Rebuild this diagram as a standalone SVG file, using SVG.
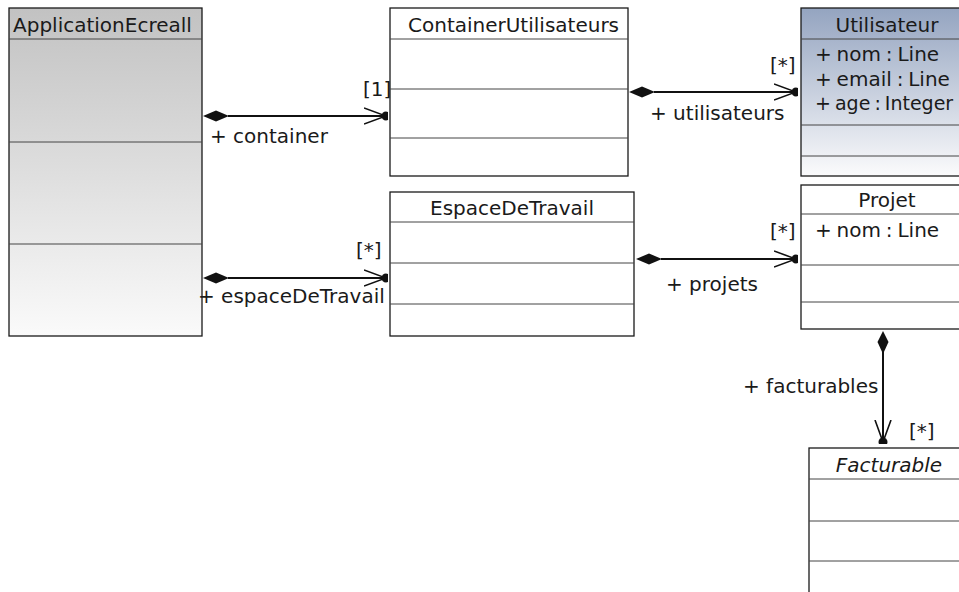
<svg xmlns="http://www.w3.org/2000/svg" width="959" height="592" viewBox="0 0 959 592">
<defs>
<style>
text{font-family:"DejaVu Sans","Liberation Sans",sans-serif;font-size:20px;fill:#1a1a1a}
.attr{word-spacing:-1.5px}
.attr2{word-spacing:-2px;font-size:19px}
.box{stroke:#1a1a1a;stroke-width:1.3}
.sep{stroke:#444;stroke-width:1}
.conn{stroke:#111;stroke-width:2;fill:none}
.dia{fill:#111;stroke:none}
</style>
<linearGradient id="gGray" x1="0" y1="0" x2="0" y2="1">
<stop offset="0" stop-color="#c2c2c2"/>
<stop offset="1" stop-color="#fafafa"/>
</linearGradient>
<linearGradient id="gBlue" x1="0" y1="0" x2="0" y2="1">
<stop offset="0" stop-color="#94a4c0"/>
<stop offset="1" stop-color="#fbfbfc"/>
</linearGradient>
<clipPath id="cApp"><rect x="9" y="8" width="193" height="329"/></clipPath>
<clipPath id="cCont"><rect x="390" y="8" width="238" height="169"/></clipPath>
<marker id="open" markerWidth="24" markerHeight="20" refX="22" refY="10" orient="auto" markerUnits="userSpaceOnUse">
<path d="M0,2 L22,10 L0,18" fill="none" stroke="#111" stroke-width="1.6"/>
<circle cx="22" cy="10" r="4.5" fill="#111"/>
</marker>
</defs>

<g id="ApplicationEcreall">
<rect class="box" x="9" y="8" width="193" height="328" fill="url(#gGray)"/>
<g clip-path="url(#cApp)"><text x="13" y="32">ApplicationEcreall</text></g>
<line class="sep" x1="9" y1="39" x2="202" y2="39"/>
<line class="sep" x1="9" y1="142" x2="202" y2="142"/>
<line class="sep" x1="9" y1="244" x2="202" y2="244"/>
</g>

<g id="ContainerUtilisateurs">
<rect class="box" x="390" y="8" width="238" height="168" fill="#fff"/>
<g clip-path="url(#cCont)"><text x="408" y="32">ContainerUtilisateurs</text></g>
<line class="sep" x1="390" y1="39" x2="628" y2="39"/>
<line class="sep" x1="390" y1="89" x2="628" y2="89"/>
<line class="sep" x1="390" y1="138" x2="628" y2="138"/>
</g>

<g id="Utilisateur">
<rect class="box" x="801" y="8" width="180" height="168" fill="url(#gBlue)"/>
<text x="887" y="32" text-anchor="middle">Utilisateur</text>
<line class="sep" x1="801" y1="39" x2="959" y2="39"/>
<text class="attr" x="815" y="61">+ nom : Line</text>
<text class="attr" x="815" y="86">+ email : Line</text>
<text class="attr2" x="815" y="110">+ age : Integer</text>
<line class="sep" x1="801" y1="125" x2="959" y2="125"/>
<line class="sep" x1="801" y1="156" x2="959" y2="156"/>
</g>

<g id="EspaceDeTravail">
<rect class="box" x="390" y="192" width="244" height="144" fill="#fff"/>
<text x="512" y="215" text-anchor="middle">EspaceDeTravail</text>
<line class="sep" x1="390" y1="222" x2="634" y2="222"/>
<line class="sep" x1="390" y1="263" x2="634" y2="263"/>
<line class="sep" x1="390" y1="304" x2="634" y2="304"/>
</g>

<g id="Projet">
<rect class="box" x="801" y="185" width="180" height="144" fill="#fff"/>
<text x="887" y="207" text-anchor="middle">Projet</text>
<line class="sep" x1="801" y1="214" x2="959" y2="214"/>
<text class="attr" x="815" y="237">+ nom : Line</text>
<line class="sep" x1="801" y1="265" x2="959" y2="265"/>
<line class="sep" x1="801" y1="302" x2="959" y2="302"/>
</g>

<g id="Facturable">
<rect class="box" x="809" y="448" width="170" height="160" fill="#fff"/>
<text x="889" y="472" text-anchor="middle" font-style="italic">Facturable</text>
<line class="sep" x1="809" y1="479" x2="959" y2="479"/>
<line class="sep" x1="809" y1="521" x2="959" y2="521"/>
<line class="sep" x1="809" y1="561" x2="959" y2="561"/>
</g>

<g id="connectors">
<line class="conn" x1="228" y1="116" x2="386" y2="116" marker-end="url(#open)"/>
<path class="dia" d="M203,116 L216,110.5 L229,116 L216,121.5 Z"/>
<text x="363" y="96">[1]</text>
<text x="210" y="143">+ container</text>

<line class="conn" x1="654" y1="92" x2="796" y2="92" marker-end="url(#open)"/>
<path class="dia" d="M629,92 L642,86.5 L655,92 L642,97.5 Z"/>
<text x="770" y="72">[*]</text>
<text x="650" y="120">+ utilisateurs</text>

<line class="conn" x1="228" y1="278" x2="386" y2="278" marker-end="url(#open)"/>
<path class="dia" d="M203,278 L216,272.5 L229,278 L216,283.5 Z"/>
<text x="356" y="257">[*]</text>
<text x="198" y="303">+ espaceDeTravail</text>

<line class="conn" x1="661" y1="259" x2="796" y2="259" marker-end="url(#open)"/>
<path class="dia" d="M636,259 L649,253.5 L662,259 L649,264.5 Z"/>
<text x="770" y="238">[*]</text>
<text x="666" y="291">+ projets</text>

<line class="conn" x1="883" y1="352" x2="883" y2="442" marker-end="url(#open)"/>
<path class="dia" d="M883,331 L888.5,342 L883,354 L877.5,342 Z"/>
<text x="743" y="393">+ facturables</text>
<text x="909" y="438">[*]</text>
</g>
</svg>
